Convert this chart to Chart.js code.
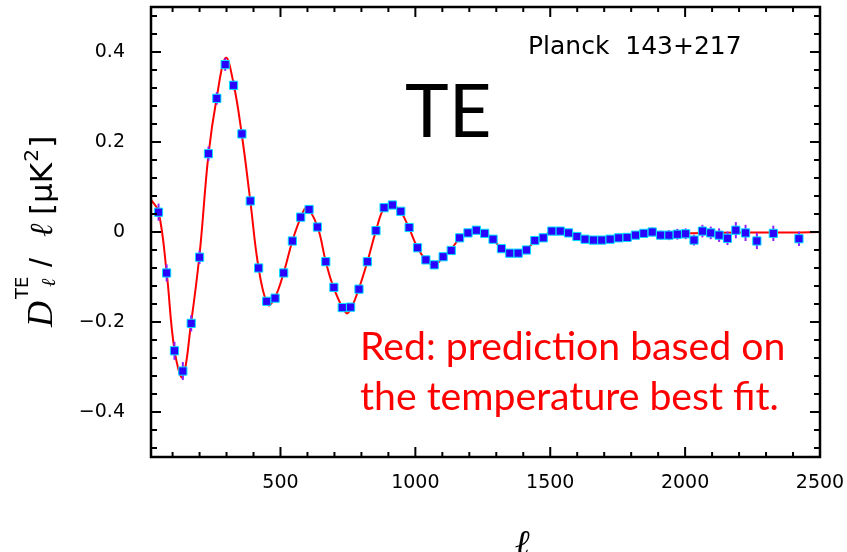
<!DOCTYPE html>
<html>
<head>
<meta charset="utf-8">
<script src="https://cdn.jsdelivr.net/npm/chart.js@4.4.1/dist/chart.umd.min.js"></script>
<style>
  html, body { margin: 0; padding: 0; background: #fff; }
  canvas { display: block; }
</style>
</head>
<body>
<canvas id="teChart" width="847" height="552"></canvas>
<script>
// binned TE data points (multipole, D_l/l, error)
const dataEll = [48, 78, 107, 138, 169, 200, 233, 264, 295, 326, 357, 388, 419, 449, 480, 512, 544, 575, 606, 637,
  668, 698, 729, 760, 791, 822, 854, 884, 915, 946, 977, 1008, 1039, 1070, 1103, 1133, 1164, 1195, 1226, 1257,
  1288, 1319, 1350, 1381, 1412, 1443, 1474, 1506, 1537, 1568, 1599, 1629, 1660, 1691, 1722, 1754, 1785, 1816,
  1847, 1878, 1909, 1940, 1971, 2002, 2033, 2064, 2095, 2126, 2157, 2188, 2224, 2266, 2327, 2422];
const dataTE = [0.044, -0.091, -0.264, -0.309, -0.203, -0.056, 0.174, 0.297, 0.372, 0.326, 0.218, 0.069, -0.080,
  -0.154, -0.147, -0.091, -0.020, 0.033, 0.050, 0.011, -0.066, -0.123, -0.168, -0.167, -0.127, -0.066, 0.003,
  0.054, 0.060, 0.046, 0.010, -0.035, -0.062, -0.073, -0.055, -0.041, -0.013, -0.002, 0.004, -0.003, -0.016,
  -0.037, -0.047, -0.047, -0.040, -0.019, -0.013, 0.002, 0.002, -0.002, -0.010, -0.016, -0.018, -0.018, -0.016,
  -0.013, -0.012, -0.007, -0.003, 0.000, -0.007, -0.007, -0.005, -0.004, -0.018, 0.002, -0.002, -0.007, -0.014,
  0.004, -0.002, -0.020, -0.003, -0.015];
const dataErr = [0.019, 0.019, 0.020, 0.020, 0.018, 0.015, 0.016, 0.014, 0.014, 0.011, 0.011, 0.009, 0.008,
  0.008, 0.008, 0.008, 0.008, 0.007, 0.007, 0.007, 0.007, 0.007, 0.007, 0.007, 0.007, 0.006, 0.006, 0.006,
  0.006, 0.006, 0.006, 0.006, 0.006, 0.006, 0.006, 0.006, 0.006, 0.006, 0.006, 0.006, 0.006, 0.006, 0.006,
  0.006, 0.006, 0.006, 0.006, 0.007, 0.007, 0.007, 0.007, 0.007, 0.007, 0.007, 0.008, 0.008, 0.008, 0.009,
  0.009, 0.010, 0.010, 0.011, 0.012, 0.012, 0.012, 0.014, 0.014, 0.015, 0.015, 0.018, 0.018, 0.018, 0.017, 0.016];

// red prediction curve
const curveEll = [20, 48, 78, 107, 137, 169, 200, 233, 264, 297, 326, 357, 388, 419, 454, 480, 512, 544, 575,
  597, 637, 668, 698, 743, 760, 791, 822, 854, 884, 912, 946, 977, 1008, 1039, 1070, 1103, 1133, 1164, 1195,
  1226, 1257, 1288, 1319, 1360, 1412, 1443, 1474, 1506, 1537, 1568, 1600, 1660, 1720, 1780, 1850, 1900, 2000,
  2100, 2200, 2300, 2400, 2500];
const curveTE = [0.072, 0.045, -0.090, -0.262, -0.322, -0.200, -0.050, 0.172, 0.300, 0.387, 0.330, 0.215, 0.070,
  -0.080, -0.162, -0.145, -0.090, -0.020, 0.032, 0.053, 0.012, -0.066, -0.125, -0.180, -0.172, -0.125, -0.066,
  0.003, 0.054, 0.062, 0.045, 0.008, -0.035, -0.062, -0.074, -0.055, -0.038, -0.014, -0.001, 0.004, -0.002,
  -0.016, -0.036, -0.046, -0.038, -0.020, -0.010, 0.002, 0.003, -0.002, -0.009, -0.016, -0.014, -0.010, -0.004,
  -0.003, -0.003, -0.002, -0.001, -0.001, -0.001, 0.000];

const xTickValues = [500, 1000, 1500, 2000, 2500];
const yTickValues = [-0.4, -0.2, 0, 0.2, 0.4];
const yTickLabels = ['\u22120.4', '\u22120.2', '0', '0.2', '0.4'];

const points = dataEll.map((l, i) => ({ x: l, y: dataTE[i] }));
const curve = curveEll.map((l, i) => ({ x: l, y: curveTE[i] }));

const decorPlugin = {
  id: 'decor',
  beforeDatasetDraw(chart, args) {
    if (args.index !== 0) return;
    const ctx = chart.ctx, xs = chart.scales.x, ys = chart.scales.y;
    ctx.save();
    ctx.strokeStyle = '#8f1cff';
    ctx.lineWidth = 2;
    dataEll.forEach((l, i) => {
      const px = xs.getPixelForValue(l);
      ctx.beginPath();
      ctx.moveTo(px, ys.getPixelForValue(dataTE[i] - dataErr[i]));
      ctx.lineTo(px, ys.getPixelForValue(dataTE[i] + dataErr[i]));
      ctx.stroke();
    });
    ctx.restore();
  },
  afterDraw(chart) {
    const ctx = chart.ctx, a = chart.chartArea, xs = chart.scales.x, ys = chart.scales.y;
    ctx.save();
    // frame
    ctx.strokeStyle = '#000';
    ctx.lineWidth = 2.5;
    ctx.strokeRect(a.left, a.top, a.right - a.left, a.bottom - a.top);
    // inward ticks
    ctx.lineWidth = 2;
    ctx.beginPath();
    for (let v = 100; v < 2500; v += 100) {
      const px = xs.getPixelForValue(v);
      const len = v % 500 === 0 ? 10 : 5;
      ctx.moveTo(px, a.bottom); ctx.lineTo(px, a.bottom - len);
      ctx.moveTo(px, a.top); ctx.lineTo(px, a.top + len);
    }
    for (let k = -12; k <= 12; k++) {
      const py = ys.getPixelForValue(k * 0.04);
      const len = k % 5 === 0 ? 10 : 6;
      ctx.moveTo(a.left, py); ctx.lineTo(a.left + len, py);
      ctx.moveTo(a.right, py); ctx.lineTo(a.right - len, py);
    }
    ctx.stroke();

    // labels inside the plot
    ctx.fillStyle = '#000';
    ctx.textBaseline = 'alphabetic';
    ctx.textAlign = 'left';
    ctx.font = '25px "DejaVu Sans"';
    ctx.fillText('Planck  143+217', 528, 54);
    ctx.font = '74px Lato';
    ctx.fillText('TE', 405, 137);

    ctx.fillStyle = '#ff0000';
    let size = 36;
    ctx.font = size + 'px Lato';
    const w = ctx.measureText('Red: prediction based on').width;
    size = size * 425 / w;
    ctx.font = size.toFixed(1) + 'px Lato';
    ctx.fillText('Red: prediction based on', 360, 360);
    ctx.fillText('the temperature best fit.', 360, 410);

    // x title
    ctx.fillStyle = '#000';
    ctx.textAlign = 'center';
    ctx.font = 'italic 36px "Liberation Serif"';
    ctx.fillText('\u2113', 522, 555);

    // y title (rotated)
    ctx.translate(52, 327);
    ctx.rotate(-Math.PI / 2);
    ctx.textAlign = 'left';
    ctx.font = 'italic 36px "Liberation Serif"';
    ctx.fillText('D', 0, 0);
    ctx.font = '18px "DejaVu Sans"';
    ctx.fillText('TE', 28, -24);
    ctx.font = 'italic 20px "Liberation Serif"';
    ctx.fillText('\u2113', 40, 3);
    ctx.font = '32px "Liberation Sans"';
    ctx.fillText('/', 60, 0);
    ctx.font = 'italic 32px "Liberation Serif"';
    ctx.fillText('\u2113', 90, 0);
    ctx.font = '31px "DejaVu Sans"';
    ctx.fillText('[\u03bcK', 112, 0);
    const wk = ctx.measureText('[\u03bcK').width;
    ctx.font = '20px "DejaVu Sans"';
    ctx.fillText('2', 112 + wk + 1, -14);
    ctx.font = '31px "DejaVu Sans"';
    ctx.fillText(']', 112 + wk + 15, 0);
    ctx.restore();
  }
};

new Chart(document.getElementById('teChart'), {
  type: 'scatter',
  data: {
    datasets: [
      {
        label: 'Planck 143+217',
        data: points,
        pointStyle: 'rect',
        pointRadius: 5.8,
        backgroundColor: '#2a00ff',
        borderColor: '#00e1ff',
        borderWidth: 1
      },
      {
        label: 'prediction',
        type: 'line',
        data: curve,
        borderColor: '#ff0000',
        borderWidth: 2,
        pointRadius: 0,
        tension: 0.4,
        fill: false
      }
    ]
  },
  options: {
    responsive: false,
    animation: false,
    events: [],
    layout: { padding: { top: 7, right: 27, left: 0, bottom: 0 } },
    plugins: { legend: { display: false }, tooltip: { enabled: false } },
    scales: {
      x: {
        type: 'linear',
        min: 20,
        max: 2500,
        grid: { display: false },
        border: { display: false },
        afterBuildTicks: s => { s.ticks = xTickValues.map(v => ({ value: v })); },
        afterFit: s => { s.height = 95; s.paddingLeft = 0; s.paddingRight = 0; },
        ticks: {
          padding: 7,
          color: '#000',
          font: { family: 'DejaVu Sans', size: 19 },
          callback: v => String(v)
        }
      },
      y: {
        type: 'linear',
        min: -0.5,
        max: 0.5,
        grid: { display: false },
        border: { display: false },
        afterBuildTicks: s => { s.ticks = yTickValues.map(v => ({ value: v })); },
        afterFit: s => { s.width = 151; s.paddingTop = 0; s.paddingBottom = 0; },
        ticks: {
          padding: 18,
          color: '#000',
          font: { family: 'DejaVu Sans', size: 19 },
          callback: v => yTickLabels[yTickValues.indexOf(v)]
        }
      }
    }
  },
  plugins: [decorPlugin]
});
</script>
</body>
</html>
